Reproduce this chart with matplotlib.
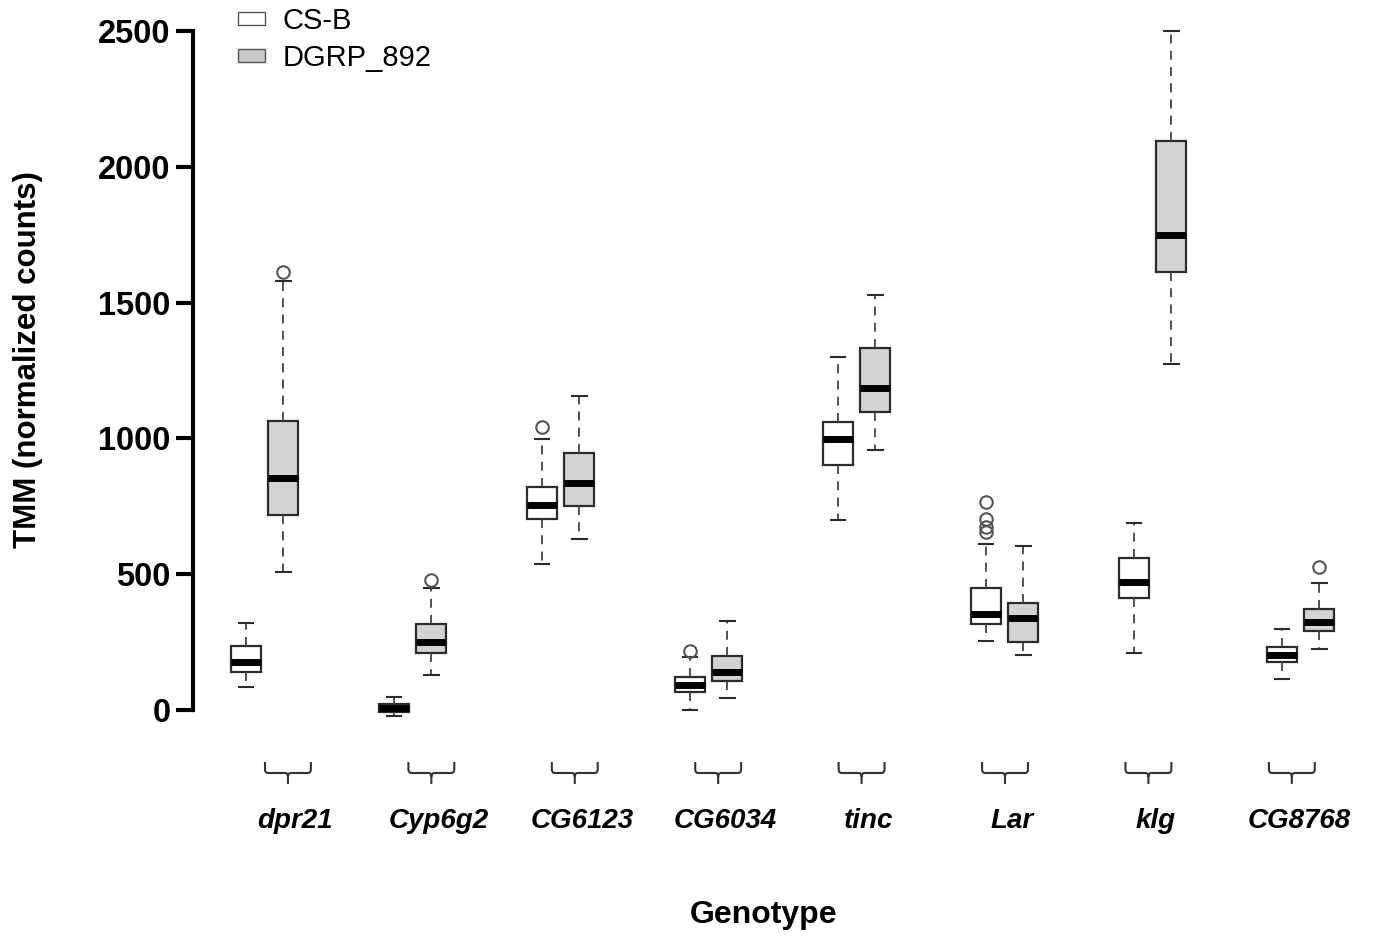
import matplotlib
matplotlib.use("Agg")
import matplotlib.pyplot as plt
from matplotlib.patches import Patch, PathPatch
from matplotlib.path import Path
from matplotlib.transforms import blended_transform_factory

plt.rcParams["font.family"] = ["Liberation Sans", "DejaVu Sans"]

# ── data ─────────────────────────────────────────────────────────────────────
genes = ["dpr21", "Cyp6g2", "CG6123", "CG6034", "tinc", "Lar", "klg", "CG8768"]
groups = ["CS-B", "DGRP_892"]

csb_whislo = [86, -21, 539, 0, 700, 253, 210, 114]
csb_q1 = [139, -8, 703, 65, 901, 315, 414, 176]
csb_med = [178, 7, 755, 92, 999, 352, 472, 203]
csb_q3 = [237, 21, 822, 123, 1060, 450, 560, 232]
csb_whishi = [319, 49, 999, 194, 1299, 610, 689, 298]
csb_fliers = [[], [], [1043], [218], [], [767, 702, 675, 657], [], []]

dgrp_whislo = [507, 128, 631, 45, 957, 204, 1274, 223]
dgrp_q1 = [718, 211, 751, 107, 1097, 252, 1613, 291]
dgrp_med = [854, 251, 837, 141, 1186, 338, 1749, 325]
dgrp_q3 = [1065, 315, 947, 200, 1334, 395, 2095, 372]
dgrp_whishi = [1581, 450, 1156, 329, 1528, 604, 2500, 466]
dgrp_fliers = [[1614], [479], [], [], [], [], [], [528]]

yticks = [0, 500, 1000, 1500, 2000, 2500]


def make_stats(lo, q1, med, q3, hi, fl):
    return [dict(whislo=a, q1=b, med=c, q3=d, whishi=e, fliers=f)
            for a, b, c, d, e, f in zip(lo, q1, med, q3, hi, fl)]


fig = plt.figure(figsize=(13.78, 9.39), dpi=100)
ax = fig.add_axes([0.140, 0.2149, 0.8575, 0.7607])

n = len(genes)
off, bw = 0.126, 0.203
common = dict(
    widths=bw, patch_artist=True, showfliers=True,
    boxprops=dict(edgecolor="#2b2b2b", linewidth=1.6),
    whiskerprops=dict(color="#444444", linewidth=1.3, linestyle=(0, (5, 4))),
    capprops=dict(color="#2b2b2b", linewidth=1.5),
    capwidths=0.1,
    medianprops=dict(color="black", linewidth=5, solid_capstyle="butt"),
    flierprops=dict(marker="o", markersize=9, markerfacecolor="none",
                    markeredgecolor="#555555", markeredgewidth=1.5),
)
b1 = ax.bxp(make_stats(csb_whislo, csb_q1, csb_med, csb_q3, csb_whishi, csb_fliers),
            positions=[i - off for i in range(n)], **common)
b2 = ax.bxp(make_stats(dgrp_whislo, dgrp_q1, dgrp_med, dgrp_q3, dgrp_whishi, dgrp_fliers),
            positions=[i + off for i in range(n)], **common)
for p in b1["boxes"]:
    p.set_facecolor("white")
for p in b2["boxes"]:
    p.set_facecolor("#d3d3d3")

ax.set_xlim(-0.484, 7.5)
ax.set_ylim(-100, 2530)
for s in ("top", "right", "bottom"):
    ax.spines[s].set_visible(False)
ax.spines["left"].set_bounds(0, 2500)
ax.spines["left"].set_linewidth(3)
ax.set_xticks([])
ax.set_yticks(yticks)
ax.tick_params(axis="y", length=12, width=3, pad=4, labelsize=23.5)
for t in ax.get_yticklabels():
    t.set_fontweight("bold")

# braces + gene labels under each pair
tr = blended_transform_factory(ax.transData, fig.transFigure)
y_top, y_mid, y_tip = 0.1885, 0.1768, 0.1651
half, rx, ry = 0.155, 0.02, 0.004
for i, g in enumerate(genes):
    xc = 0.158 + i * 0.969
    x0, x1 = xc - half, xc + half
    verts = [(x0, y_top), (x0, y_mid + ry), (x0, y_mid), (x0 + rx, y_mid),
             (xc - rx, y_mid), (xc, y_mid), (xc, y_mid - ry), (xc, y_tip),
             (xc, y_mid - ry), (xc, y_mid), (xc + rx, y_mid),
             (x1 - rx, y_mid), (x1, y_mid), (x1, y_mid + ry), (x1, y_top)]
    codes = [Path.MOVETO, Path.LINETO, Path.CURVE3, Path.CURVE3,
             Path.LINETO, Path.CURVE3, Path.CURVE3, Path.LINETO,
             Path.MOVETO, Path.CURVE3, Path.CURVE3,
             Path.LINETO, Path.CURVE3, Path.CURVE3, Path.LINETO]
    ax.add_patch(PathPatch(Path(verts, codes), transform=tr, fill=False,
                           edgecolor="#333333", linewidth=1.5, clip_on=False))
    ax.text(xc + 0.05, 0.1257, g, transform=tr, ha="center", va="center",
            fontsize=20, fontweight="bold", fontstyle="italic")

fig.text(764 / 1378, 0.0256, "Genotype", ha="center", va="center",
         fontsize=23, fontweight="bold")
fig.text(28 / 1378, 1 - 360 / 939, "TMM (normalized counts)", rotation=90,
         ha="center", va="center", fontsize=22.5, fontweight="bold")

handles = [Patch(facecolor="white", edgecolor="#555555", linewidth=1),
           Patch(facecolor="#c8c8c8", edgecolor="#555555", linewidth=1)]
fig.legend(handles, groups, loc="upper left", bbox_to_anchor=(238 / 1378, 1 - 7 / 939),
           frameon=False, fontsize=21, handlelength=0.93, handleheight=0.3,
           handletextpad=0.6, labelspacing=0.3, borderpad=0.0, borderaxespad=0)

fig.savefig("out.png", dpi=100)
